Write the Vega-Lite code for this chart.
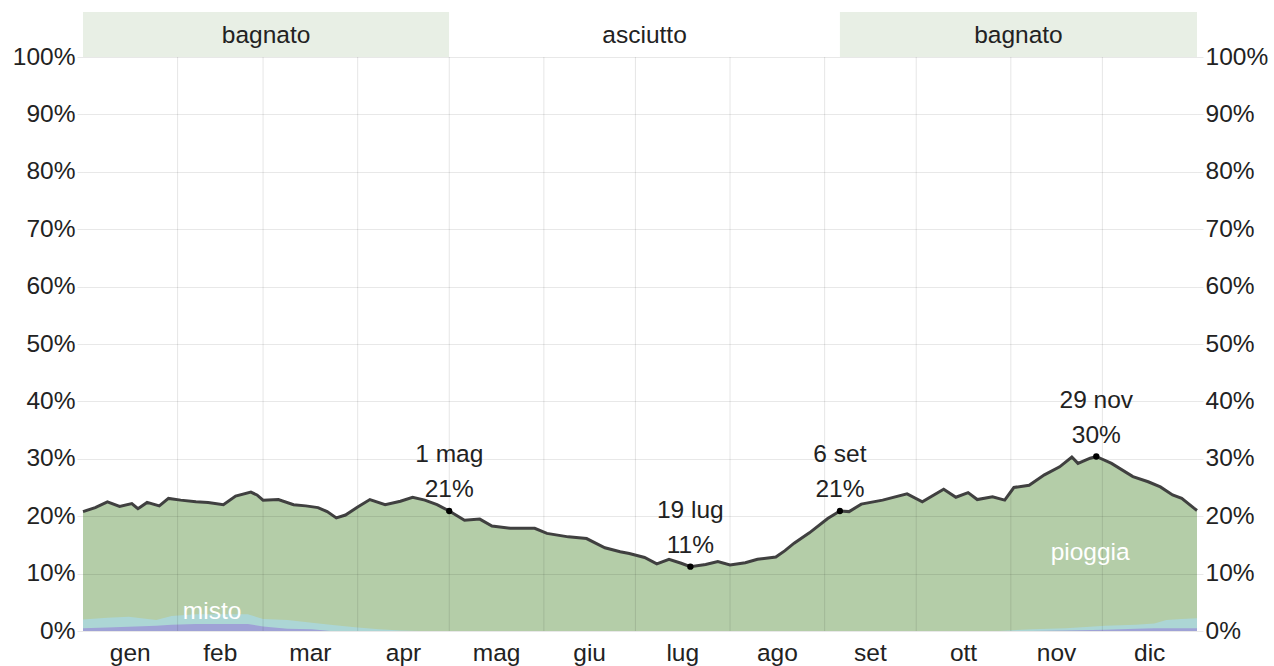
{
  "$schema": "https://vega.github.io/schema/vega-lite/v6.json",
  "width": 1114,
  "height": 619,
  "autosize": {"type": "none"},
  "padding": {"left": 83, "top": 12, "right": 77, "bottom": 35},
  "background": "white",
  "config": {
    "view": {"stroke": null},
    "font": "Liberation Sans",
    "axis": {"labelFont": "Liberation Sans", "labelFontSize": 24.5, "labelColor": "#222"}
  },
  "datasets": {
    "totale": [
      {"giorno": 0, "valore": 20.8}, {"giorno": 4, "valore": 21.5}, {"giorno": 8, "valore": 22.5}, {"giorno": 12, "valore": 21.7},
      {"giorno": 16, "valore": 22.2}, {"giorno": 18, "valore": 21.3}, {"giorno": 21, "valore": 22.4}, {"giorno": 25, "valore": 21.8},
      {"giorno": 28, "valore": 23.1}, {"giorno": 32, "valore": 22.8}, {"giorno": 37, "valore": 22.5}, {"giorno": 41, "valore": 22.4},
      {"giorno": 46, "valore": 22.0}, {"giorno": 50, "valore": 23.5}, {"giorno": 55, "valore": 24.2}, {"giorno": 57, "valore": 23.7},
      {"giorno": 59, "valore": 22.8}, {"giorno": 64, "valore": 22.9}, {"giorno": 69, "valore": 22.0}, {"giorno": 73, "valore": 21.8},
      {"giorno": 77, "valore": 21.5}, {"giorno": 80, "valore": 20.8}, {"giorno": 83, "valore": 19.7}, {"giorno": 86, "valore": 20.2},
      {"giorno": 90, "valore": 21.6}, {"giorno": 94, "valore": 22.9}, {"giorno": 99, "valore": 22.0}, {"giorno": 104, "valore": 22.6},
      {"giorno": 108, "valore": 23.3}, {"giorno": 112, "valore": 22.8}, {"giorno": 116, "valore": 22.0}, {"giorno": 120, "valore": 20.9},
      {"giorno": 125, "valore": 19.3}, {"giorno": 130, "valore": 19.5}, {"giorno": 134, "valore": 18.3}, {"giorno": 140, "valore": 17.9},
      {"giorno": 148, "valore": 17.9}, {"giorno": 152, "valore": 17.0}, {"giorno": 159, "valore": 16.4}, {"giorno": 165, "valore": 16.1},
      {"giorno": 171, "valore": 14.5}, {"giorno": 176, "valore": 13.8}, {"giorno": 179, "valore": 13.5}, {"giorno": 184, "valore": 12.8},
      {"giorno": 188, "valore": 11.7}, {"giorno": 192, "valore": 12.5}, {"giorno": 196, "valore": 11.8}, {"giorno": 199, "valore": 11.2},
      {"giorno": 204, "valore": 11.6}, {"giorno": 208, "valore": 12.1}, {"giorno": 212, "valore": 11.5}, {"giorno": 217, "valore": 11.9},
      {"giorno": 221, "valore": 12.5}, {"giorno": 227, "valore": 12.9}, {"giorno": 230, "valore": 14.0}, {"giorno": 233, "valore": 15.3},
      {"giorno": 238, "valore": 17.1}, {"giorno": 244, "valore": 19.6}, {"giorno": 248, "valore": 20.9}, {"giorno": 251, "valore": 20.8},
      {"giorno": 255, "valore": 22.1}, {"giorno": 262, "valore": 22.8}, {"giorno": 270, "valore": 23.9}, {"giorno": 275, "valore": 22.5},
      {"giorno": 282, "valore": 24.7}, {"giorno": 286, "valore": 23.3}, {"giorno": 290, "valore": 24.1}, {"giorno": 293, "valore": 22.9},
      {"giorno": 298, "valore": 23.4}, {"giorno": 302, "valore": 22.8}, {"giorno": 305, "valore": 25.0}, {"giorno": 310, "valore": 25.4},
      {"giorno": 315, "valore": 27.2}, {"giorno": 320, "valore": 28.6}, {"giorno": 324, "valore": 30.3}, {"giorno": 326, "valore": 29.2},
      {"giorno": 330, "valore": 30.1}, {"giorno": 332, "valore": 30.4}, {"giorno": 337, "valore": 29.2}, {"giorno": 344, "valore": 26.9},
      {"giorno": 349, "valore": 26.0}, {"giorno": 353, "valore": 25.1}, {"giorno": 357, "valore": 23.7}, {"giorno": 360, "valore": 23.1},
      {"giorno": 364, "valore": 21.4}, {"giorno": 365, "valore": 21.0}
    ],
    "neve_misto": [
      {"giorno": 0, "neve": 0.5, "neve_piu_misto": 2.0}, {"giorno": 8, "neve": 0.6, "neve_piu_misto": 2.3},
      {"giorno": 15, "neve": 0.75, "neve_piu_misto": 2.5}, {"giorno": 24, "neve": 0.9, "neve_piu_misto": 1.9},
      {"giorno": 29, "neve": 1.1, "neve_piu_misto": 2.6}, {"giorno": 37, "neve": 1.2, "neve_piu_misto": 2.9},
      {"giorno": 45, "neve": 1.2, "neve_piu_misto": 2.9}, {"giorno": 54, "neve": 1.2, "neve_piu_misto": 2.9},
      {"giorno": 59, "neve": 0.8, "neve_piu_misto": 2.1}, {"giorno": 67, "neve": 0.4, "neve_piu_misto": 1.9},
      {"giorno": 75, "neve": 0.3, "neve_piu_misto": 1.45}, {"giorno": 81, "neve": 0.0, "neve_piu_misto": 1.1},
      {"giorno": 90, "neve": 0, "neve_piu_misto": 0.6}, {"giorno": 97, "neve": 0, "neve_piu_misto": 0.3},
      {"giorno": 104, "neve": 0, "neve_piu_misto": 0.1}, {"giorno": 110, "neve": 0, "neve_piu_misto": 0},
      {"giorno": 300, "neve": 0, "neve_piu_misto": 0}, {"giorno": 311, "neve": 0, "neve_piu_misto": 0.3},
      {"giorno": 322, "neve": 0.1, "neve_piu_misto": 0.5}, {"giorno": 335, "neve": 0.2, "neve_piu_misto": 0.9},
      {"giorno": 345, "neve": 0.4, "neve_piu_misto": 1.1}, {"giorno": 351, "neve": 0.5, "neve_piu_misto": 1.3},
      {"giorno": 355, "neve": 0.5, "neve_piu_misto": 1.9}, {"giorno": 360, "neve": 0.5, "neve_piu_misto": 2.1},
      {"giorno": 365, "neve": 0.5, "neve_piu_misto": 2.2}
    ],
    "stagioni": [
      {"inizio": 0, "fine": 120, "centro": 60, "stato": "bagnato"},
      {"inizio": 120, "fine": 248, "centro": 184, "stato": "asciutto"},
      {"inizio": 248, "fine": 365, "centro": 306.5, "stato": "bagnato"}
    ],
    "mesi": [
      {"inizio": 0, "centro": 15.5, "nome": "gen"}, {"inizio": 31, "centro": 45, "nome": "feb"},
      {"inizio": 59, "centro": 74.5, "nome": "mar"}, {"inizio": 90, "centro": 105, "nome": "apr"},
      {"inizio": 120, "centro": 135.5, "nome": "mag"}, {"inizio": 151, "centro": 166, "nome": "giu"},
      {"inizio": 181, "centro": 196.5, "nome": "lug"}, {"inizio": 212, "centro": 227.5, "nome": "ago"},
      {"inizio": 243, "centro": 258, "nome": "set"}, {"inizio": 273, "centro": 288.5, "nome": "ott"},
      {"inizio": 304, "centro": 319, "nome": "nov"}, {"inizio": 334, "centro": 349.5, "nome": "dic"}
    ],
    "estremi": [
      {"giorno": 120, "valore": 20.9, "data": "1 mag", "perc": "21%"},
      {"giorno": 199, "valore": 11.2, "data": "19 lug", "perc": "11%"},
      {"giorno": 248, "valore": 20.9, "data": "6 set", "perc": "21%"},
      {"giorno": 332, "valore": 30.4, "data": "29 nov", "perc": "30%"}
    ],
    "etichette": [
      {"giorno": 42.3, "valore": 3.3, "testo": "misto"},
      {"giorno": 330, "valore": 13.6, "testo": "pioggia"}
    ]
  },
  "layer": [
    {
      "data": {"name": "stagioni"},
      "mark": {"type": "rect"},
      "encoding": {
        "x": {"field": "inizio", "type": "quantitative", "scale": {"domain": [0, 365], "nice": false, "zero": false}, "axis": null},
        "x2": {"field": "fine"},
        "y": {"datum": 100, "type": "quantitative", "scale": {"domain": [0, 107.84], "nice": false}, "axis": null},
        "y2": {"datum": 107.84},
        "color": {"field": "stato", "type": "nominal", "scale": {"domain": ["bagnato", "asciutto"], "range": ["#e8efe5", "#ffffff"]}, "legend": null}
      }
    },
    {
      "data": {"name": "stagioni"},
      "mark": {"type": "text", "fontSize": 24.5, "color": "#222", "baseline": "middle"},
      "encoding": {
        "x": {"field": "centro", "type": "quantitative", "axis": null},
        "y": {"datum": 103.6, "type": "quantitative", "axis": null},
        "text": {"field": "stato"}
      }
    },
    {
      "data": {"name": "totale"},
      "mark": {"type": "area", "color": "#b4cda8"},
      "encoding": {
        "x": {"field": "giorno", "type": "quantitative", "axis": null},
        "y": {"field": "valore", "type": "quantitative",
          "axis": {"orient": "left", "values": [0, 10, 20, 30, 40, 50, 60, 70, 80, 90, 100], "labelExpr": "datum.value + '%'",
            "grid": true, "gridColor": "#000", "gridOpacity": 0.09, "domain": false, "tickColor": "#000", "tickOpacity": 0.09,
            "tickSize": 6, "labelPadding": 2, "title": null, "zindex": 1}}
      }
    },
    {
      "data": {"name": "neve_misto"},
      "mark": {"type": "area", "color": "#acd6d5"},
      "encoding": {
        "x": {"field": "giorno", "type": "quantitative", "axis": null},
        "y": {"field": "neve_piu_misto", "type": "quantitative", "axis": null}
      }
    },
    {
      "data": {"name": "neve_misto"},
      "mark": {"type": "area", "color": "#9fa2d6"},
      "encoding": {
        "x": {"field": "giorno", "type": "quantitative", "axis": null},
        "y": {"field": "neve", "type": "quantitative", "axis": null}
      }
    },
    {
      "data": {"name": "mesi"},
      "transform": [{"filter": "datum.inizio > 0"}],
      "mark": {"type": "rule", "color": "#000", "opacity": 0.1, "strokeWidth": 1},
      "encoding": {
        "x": {"field": "inizio", "type": "quantitative", "axis": null},
        "y": {"datum": 0, "type": "quantitative", "axis": null},
        "y2": {"datum": 100}
      }
    },
    {
      "data": {"name": "mesi"},
      "mark": {"type": "text", "fontSize": 24.5, "color": "#222", "baseline": "top", "dy": 11},
      "encoding": {
        "x": {"field": "centro", "type": "quantitative", "axis": null},
        "y": {"datum": 0, "type": "quantitative", "axis": null},
        "text": {"field": "nome"}
      }
    },
    {
      "data": {"name": "etichette"},
      "mark": {"type": "text", "fontSize": 24.5, "color": "#ffffff", "baseline": "middle"},
      "encoding": {
        "x": {"field": "giorno", "type": "quantitative", "axis": null},
        "y": {"field": "valore", "type": "quantitative", "axis": null},
        "text": {"field": "testo"}
      }
    },
    {
      "data": {"name": "totale"},
      "mark": {"type": "line", "color": "#404040", "strokeWidth": 3},
      "encoding": {
        "x": {"field": "giorno", "type": "quantitative", "axis": null},
        "y": {"field": "valore", "type": "quantitative",
          "axis": {"orient": "right", "values": [0, 10, 20, 30, 40, 50, 60, 70, 80, 90, 100], "labelExpr": "datum.value + '%'",
            "grid": false, "domain": false, "tickColor": "#000", "tickOpacity": 0.09, "tickSize": 6, "labelPadding": 2, "title": null}}
      }
    },
    {
      "data": {"name": "estremi"},
      "mark": {"type": "point", "filled": true, "color": "#000", "size": 40, "opacity": 1},
      "encoding": {
        "x": {"field": "giorno", "type": "quantitative", "axis": null},
        "y": {"field": "valore", "type": "quantitative", "axis": null}
      }
    },
    {
      "data": {"name": "estremi"},
      "mark": {"type": "text", "fontSize": 24.5, "color": "#222", "baseline": "middle", "dy": -21},
      "encoding": {
        "x": {"field": "giorno", "type": "quantitative", "axis": null},
        "y": {"field": "valore", "type": "quantitative", "axis": null},
        "text": {"field": "perc"}
      }
    },
    {
      "data": {"name": "estremi"},
      "mark": {"type": "text", "fontSize": 24.5, "color": "#222", "baseline": "middle", "dy": -56},
      "encoding": {
        "x": {"field": "giorno", "type": "quantitative", "axis": null},
        "y": {"field": "valore", "type": "quantitative", "axis": null},
        "text": {"field": "data"}
      }
    }
  ],
  "resolve": {"axis": {"y": "independent"}}
}
